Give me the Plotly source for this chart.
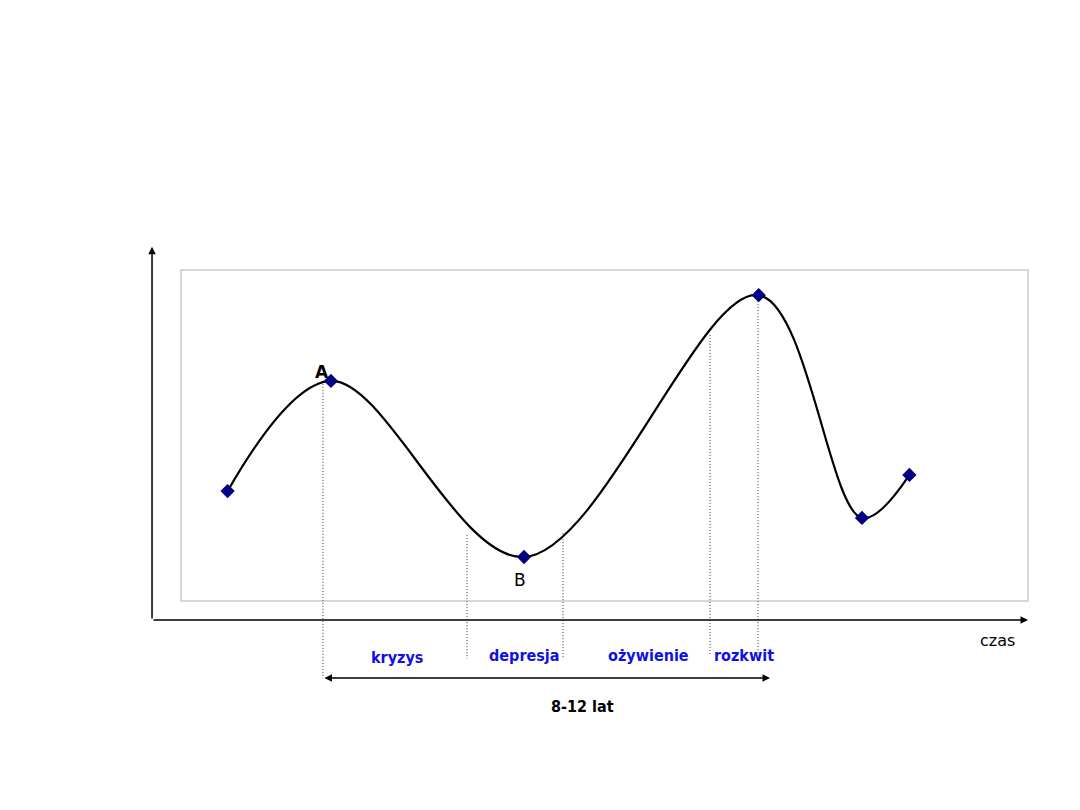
import plotly.graph_objects as go

# ---- data (chart units: plot box spans 0..10 on both axes) ----
time_pts = [0.55, 1.77, 4.05, 6.82, 8.04, 8.60]
level_pts = [3.32, 6.65, 1.33, 9.24, 2.51, 3.81]

# phase boundaries (x) and where they meet the curve (y top) / end (y bottom)
bound_x = [1.676, 3.377, 4.510, 6.246, 6.812]
bound_top = [6.65, 1.99, 2.05, 8.04, 9.24]
bound_bottom = [-2.33, -1.74, -1.76, -1.63, -1.63]

phase_labels = ["kryzys", "depresja", "ożywienie", "rozkwit"]
phase_x = [2.55, 4.05, 5.525, 6.647]
phase_y = [-1.72, -1.66, -1.66, -1.66]

W, H = 1080, 810
box_px = dict(left=181, right=1028, top=270, bottom=601)
sx = (box_px["right"] - box_px["left"]) / 10.0
sy = (box_px["bottom"] - box_px["top"]) / 10.0
xr = [-box_px["left"] / sx, (W - box_px["left"]) / sx]
yr = [-(H - box_px["bottom"]) / sy, box_px["bottom"] / sy]

fig = go.Figure()

# dotted phase boundaries
for bx, bt, bb in zip(bound_x, bound_top, bound_bottom):
    fig.add_trace(go.Scatter(x=[bx, bx], y=[bt, bb], mode="lines",
                             line=dict(color="#333333", width=1, dash="1px,2px"),
                             hoverinfo="skip", showlegend=False))

# smoothed cycle curve
fig.add_trace(go.Scatter(x=time_pts, y=level_pts, mode="lines",
                         line=dict(color="black", width=2.2, shape="spline", smoothing=1.0),
                         showlegend=False, hoverinfo="skip"))
fig.add_trace(go.Scatter(x=time_pts, y=level_pts, mode="markers",
                         marker=dict(symbol="diamond", size=11, color="#000080"),
                         showlegend=False))

shapes = [dict(type="rect", xref="x", yref="y", x0=0, x1=10, y0=0, y1=10,
               line=dict(color="#cccccc", width=1.5), layer="below")]

ann = []
# axes arrows
ann.append(dict(x=-0.342, y=10.70, ax=-0.342, ay=-0.574, xref="x", yref="y", axref="x", ayref="y",
                showarrow=True, arrowhead=2, arrowsize=1, arrowwidth=1.5, arrowcolor="black", text=""))
ann.append(dict(x=10.0, y=-0.574, ax=-0.342, ay=-0.574, xref="x", yref="y", axref="x", ayref="y",
                showarrow=True, arrowhead=2, arrowsize=1, arrowwidth=1.5, arrowcolor="black", text=""))
# double arrow 8-12 lat
ann.append(dict(x=6.954, y=-2.326, ax=1.676, ay=-2.326, xref="x", yref="y", axref="x", ayref="y",
                showarrow=True, arrowhead=2, startarrowhead=2, arrowside="end+start",
                arrowsize=1, arrowwidth=1.5, arrowcolor="black", text=""))

reg = "DejaVu Sans"
cond = "DejaVu Sans Condensed, DejaVu Sans"
ann.append(dict(x=1.665, y=6.92, text="<b>A</b>", showarrow=False, xref="x", yref="y",
                font=dict(family=reg, size=17, color="black")))
ann.append(dict(x=4.002, y=0.634, text="B", showarrow=False, xref="x", yref="y",
                font=dict(family=reg, size=17, color="black")))
for lab, px_, py_ in zip(phase_labels, phase_x, phase_y):
    ann.append(dict(x=px_, y=py_, text="<b>" + lab + "</b>", showarrow=False, xref="x", yref="y",
                    font=dict(family=cond, size=16, color="#1010e0")))
ann.append(dict(x=9.634, y=-1.18, text="czas", showarrow=False, xref="x", yref="y",
                font=dict(family=reg, size=16, color="black")))
ann.append(dict(x=4.746, y=-3.20, text="<b>8-12 lat</b>", showarrow=False, xref="x", yref="y",
                font=dict(family=cond, size=16, color="black")))

fig.update_layout(
    width=W, height=H,
    margin=dict(l=0, r=0, t=0, b=0),
    paper_bgcolor="white", plot_bgcolor="white",
    xaxis=dict(range=xr, visible=False, fixedrange=True),
    yaxis=dict(range=yr, visible=False, fixedrange=True),
    shapes=shapes, annotations=ann, showlegend=False,
)

fig.write_html("out.html")
